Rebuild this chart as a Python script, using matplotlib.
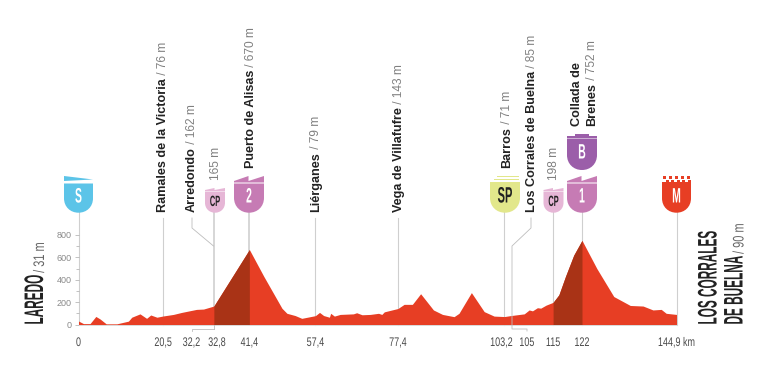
import matplotlib
matplotlib.use('Agg')
import matplotlib.pyplot as plt
from matplotlib.path import Path
from matplotlib.patches import PathPatch, Polygon, Rectangle
from matplotlib.patheffects import AbstractPathEffect
from matplotlib.transforms import Affine2D

# ---------- data ----------
profile_km = [0, 1.2, 2.8, 4.2, 5.2, 6.7, 9.3, 12.1, 12.9, 14.9, 16.5, 17.5, 19, 20.5, 23, 25, 28.6, 30.3, 32.8,
              41.4, 44.9, 49.3, 50.5, 52.5, 54.1, 57.4, 58.4, 59.4, 60.8, 61.1, 62, 63.4, 66.6, 67.4, 68.7, 70.7,
              72.7, 73.5, 74.1, 77.4, 78.9, 80.9, 82.9, 86, 88.2, 91, 92.2, 95.2, 98.3, 100.7, 103.2, 104.8, 108,
              109.2, 110, 111.2, 112, 113.3, 115, 116.4, 118, 120, 122, 125.6, 129.7, 131.2, 133.7, 136.8, 139.2,
              141.2, 142.4, 144.9]
profile_m = [31, 8, 8, 72, 50, 6, 6, 30, 65, 95, 55, 85, 65, 76, 90, 108, 135, 138, 165,
             670, 430, 145, 100, 80, 55, 79, 108, 80, 65, 100, 75, 90, 95, 105, 87, 90,
             100, 90, 113, 143, 180, 180, 275, 130, 90, 70, 100, 285, 115, 75, 71, 80, 95,
             130, 122, 150, 146, 173, 198, 265, 430, 620, 752, 500, 250, 220, 170, 165, 130,
             135, 100, 90]
climbs = [(32.8, 41.4), (115, 122)]
y_major = [0, 200, 400, 600, 800]
y_minor = [100, 300, 500, 700]
line_km = [0, 20.5, 32.8, 41.4, 57.4, 77.4, 103.2, 115, 122, 144.9]
line_top_px = [212, 218, 212, 212, 218, 218, 212, 212, 212, 212]
tick_km = [0, 20.5, 32.2, 32.8, 41.4, 57.4, 77.4, 103.2, 105, 115, 122, 144.9]
tick_text = ['0', '20,5', '32,2', '32,8', '41,4', '57,4', '77,4', '103,2', '105', '115', '122', '144,9 km']
tick_shift_px = [0, 0, -20, 3, 0, 0, 0, -3, 15, 0, 0, 0]
places = [
    ('Ramales de la Victoria', ' / 76 m', 163, 212),
    ('Arredondo', ' / 162 m', 192, 212),
    ('', '165 m', 216, 180),
    ('Puerto de Alisas', ' / 670 m', 251.5, 168),
    ('Liérganes', ' / 79 m', 316, 212),
    ('Vega de Villafufre', ' / 143 m', 399, 212),
    ('Barros', ' / 71 m', 507.5, 168),
    ('Los Corrales de Buelna', ' / 85 m', 532, 212),
    ('', '198 m', 554, 180),
    ('Collada de', '', 576.5, 126),
    ('Brenes', ' / 752 m', 592, 126),
]

RED = '#E73E24'
DARK = '#A93316'
GREY = '#CFCFCF'
SANS = ['Liberation Sans']

W, H = 768, 374
X0, X1, Y0, Y800 = 78.5, 676.5, 324.5, 235
fig = plt.figure(figsize=(W / 100, H / 100), dpi=100)
ax = fig.add_axes([X0 / W, 1 - Y0 / H, (X1 - X0) / W, (Y0 - Y800) / H])
ax.set_xlim(0, 144.9)
ax.set_ylim(0, 800)
for s in ax.spines.values():
    s.set_visible(False)
ax.patch.set_alpha(0)
ax.set_xticks([])
ax.set_yticks(y_major)
ax.set_yticks(y_minor, minor=True)
ax.tick_params(axis='y', which='both', length=3, width=0.5, color='#AAAAAA', labelcolor='#8A8A8A',
               labelsize=6.5, pad=2)
ax.tick_params(axis='y', which='minor', length=2)
for lab in ax.get_yticklabels():
    lab.set_family(SANS)


def ypx2m(y):
    return (Y0 - y) / (Y0 - Y800) * 800


for k, top in zip(line_km, line_top_px):
    thick = k in (32.8, 41.4)
    ax.plot([k, k], [0, ypx2m(top)], color=GREY, lw=1.2 if thick else 0.8, clip_on=False, zorder=1)

ax.fill_between(profile_km, profile_m, 0, color=RED, lw=0, zorder=2, clip_on=False)
for a, b in climbs:
    ax.fill_between(profile_km, profile_m, 0, where=[a <= k <= b for k in profile_km], color=DARK, lw=0,
                    zorder=3, clip_on=False)
ax.plot([0, 144.9], [0, 0], color='#D9D9D9', lw=0.7, zorder=4, clip_on=False)

ov = fig.add_axes([0, 0, 1, 1])
ov.set_xlim(0, W)
ov.set_ylim(H, 0)
ov.axis('off')
ov.patch.set_alpha(0)


class Squeeze(AbstractPathEffect):
    """Draw text condensed along its writing direction, about an anchor in display pixels."""

    def __init__(self, sx=1.0, sy=1.0, ax_=0.0, ay_=0.0):
        super().__init__()
        self.sx, self.sy, self.ax_, self.ay_ = sx, sy, ax_, ay_

    def draw_path(self, renderer, gc, tpath, affine, rgbFace=None):
        squeeze = Affine2D().translate(-self.ax_, -self.ay_).scale(self.sx, self.sy).translate(self.ax_, self.ay_)
        renderer.draw_path(gc, tpath, affine + squeeze, rgbFace)


def narrow_h(x, y, s, size, color, squeeze, weight='normal', zorder=6):
    t = ov.text(x, y, s, ha='center', va='center', family=SANS, fontsize=size, color=color, fontweight=weight,
                zorder=zorder)
    t.set_path_effects([Squeeze(sx=squeeze, ax_=x)])
    return t


def narrow_v(x, y, s, size, color, squeeze, weight='normal'):
    """Rotated condensed text, its start at y (pixels from top); returns the y of its end."""
    t = ov.text(x, y, s, rotation=90, ha='center', va='bottom', family=SANS, fontsize=size, color=color,
                fontweight=weight)
    t.set_path_effects([Squeeze(sy=squeeze, ay_=H - y)])
    bb = t.get_window_extent(fig.canvas.get_renderer())
    return y - bb.height * squeeze


def kmx(k):
    return ax.transData.transform((k, 0))[0]


for k, t, d in zip(tick_km, tick_text, tick_shift_px):
    narrow_h(kmx(k) + d, 343, t, 9, '#4A4A4A', 0.72)

# leader lines
lc = '#BDBDBD'
ov.plot([192, 192, 213.5], [218, 228, 246], color=lc, lw=0.6)
ov.plot([213.5, 192, 192], [329, 329, 331], color=lc, lw=0.6)
ov.plot([213.5, 213.5], [325, 329], color=lc, lw=0.6)
ov.plot([531, 531, 512, 512, 527, 527], [218, 228, 246, 329, 329, 331], color=lc, lw=0.6)

# place names
rend = fig.canvas.get_renderer()
for name, alt, x, y in places:
    top = y
    if name:
        t = ov.text(x, y, name, rotation=90, ha='center', va='bottom', family=SANS, fontweight='bold',
                    fontsize=9.1, color='#222222')
        top = H - t.get_window_extent(rend).y1
    if alt:
        ov.text(x, top, alt, rotation=90, ha='center', va='bottom', family=SANS, fontsize=8.6, color='#808080')


def shield(cx, top, bot, w, color):
    l, r = cx - w / 2, cx + w / 2
    mid = bot - w * 0.5
    verts = [(l, top), (r, top), (r, mid), (r, mid + w * 0.3), (cx + w * 0.28, bot), (cx, bot),
             (cx - w * 0.28, bot), (l, mid + w * 0.3), (l, mid), (l, top)]
    codes = [Path.MOVETO, Path.LINETO, Path.LINETO, Path.CURVE4, Path.CURVE4, Path.CURVE4,
             Path.CURVE4, Path.CURVE4, Path.CURVE4, Path.CLOSEPOLY]
    ov.add_patch(PathPatch(Path(verts, codes), fc=color, ec='none', zorder=5))


def label(cx, cy, s, color='white', size=15):
    narrow_h(cx, cy, s, size, color, 0.5, 'bold', 7)


def teeth(cx, w, top, base, color):
    l, r = cx - w / 2, cx + w / 2
    ov.add_patch(Polygon([(l, base), (l, base - 1.5), (cx - 0.5, top), (cx - 0.5, base - 1.5), (r, top), (r, base)],
                         fc=color, ec='none', zorder=5))


PINK = '#C67BB4'
LPINK = '#E6B6D6'
# S
ov.add_patch(Polygon([(64, 176), (93, 179.5), (64, 181)], fc='#5CC4E8', ec='none', zorder=5))
shield(78.5, 183.5, 212.7, 29, '#5CC4E8')
label(78.5, 197, 'S')
# CP 1
shield(215, 192, 212.7, 20, LPINK)
teeth(215, 20, 188, 191.5, LPINK)
label(215, 202, 'CP', '#222222', 10.7)
# 2
shield(249, 183.5, 212.7, 30, PINK)
teeth(249, 30, 176, 182.5, PINK)
label(249, 197, '2')
# SP
shield(505, 182, 212.7, 30, '#E2E78B')
ov.add_patch(Rectangle((497, 176), 22, 1.2, fc='#E2E78B', ec='none', zorder=5))
ov.add_patch(Rectangle((494, 178.5), 25, 1.2, fc='#E2E78B', ec='none', zorder=5))
label(505, 197, 'SP', '#222222', 16)
# CP 2
shield(553.5, 192, 212.7, 20, LPINK)
teeth(553.5, 20, 188, 191.5, LPINK)
label(553.5, 202, 'CP', '#222222', 10.7)
# 1
shield(582, 183.5, 212.7, 30, PINK)
teeth(582, 30, 176, 182.5, PINK)
label(582, 197, '1')
# B
shield(582, 138.5, 170, 30, '#9B5EA9')
ov.add_patch(Polygon([(567, 137.5), (567, 135.5), (575, 135.5), (575, 133.5), (589, 133.5), (589, 135.5),
                      (597, 135.5), (597, 137.5)], fc='#9B5EA9', ec='none', zorder=5))
label(582, 153, 'B')
# M
shield(676.5, 182, 212.7, 29, RED)
for i in range(5):
    ov.add_patch(Rectangle((662.5 + i * 6, 176), 3.2, 3, fc=RED, ec='none', zorder=5))
for i in range(5):
    ov.add_patch(Rectangle((665.5 + i * 5.5, 179.5), 3, 2.5, fc=RED, ec='none', zorder=5))
label(676.5, 197, 'M')

# start / finish
top = narrow_v(36, 324.5, 'LAREDO', 19.3, '#222222', 0.44, 'bold')
narrow_v(40, top - 2, '/ 31 m', 11, '#666666', 0.72)
narrow_v(709.5, 324.5, 'LOS CORRALES', 19.3, '#222222', 0.44, 'bold')
top = narrow_v(735.5, 324.5, 'DE BUELNA', 19.3, '#222222', 0.44, 'bold')
narrow_v(739.5, top - 2, '/ 90 m', 11, '#666666', 0.72)

fig.savefig('out.png', dpi=100, facecolor='white')
